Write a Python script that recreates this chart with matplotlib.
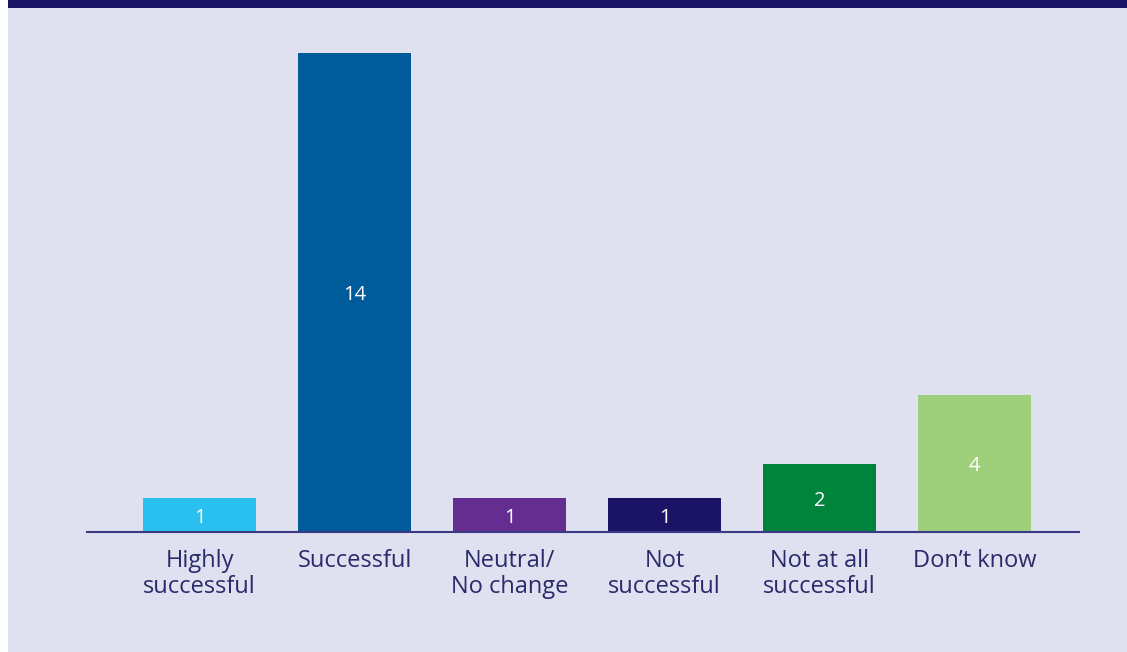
import matplotlib.pyplot as plt
from matplotlib.patches import Rectangle

categories = ["Highly\nsuccessful", "Successful", "Neutral/\nNo change",
              "Not\nsuccessful", "Not at all\nsuccessful", "Don\u2019t know"]
values = [1, 14, 1, 1, 2, 4]
colors = ["#29c0f0", "#005b9a", "#662d91", "#1b1464", "#00843d", "#9ed07b"]

BG = "#dfe1f0"
NAVY = "#1b1464"
TEXT = "#2b2a6b"

plt.rcParams['font.family'] = ['Open Sans', 'DejaVu Sans']

W, H = 1127, 652
fig = plt.figure(figsize=(W / 100, H / 100), dpi=100)
fig.patch.set_facecolor("white")
fig.patches.append(Rectangle((8 / W, 0), 1 - 8 / W, 1, transform=fig.transFigure,
                             facecolor=BG, edgecolor="none", zorder=-2))
fig.patches.append(Rectangle((8 / W, (H - 8) / H), 1 - 8 / W, 8 / H, transform=fig.transFigure,
                             facecolor=NAVY, edgecolor="none", zorder=-1))

ax = fig.add_axes([87 / W, 120 / H, 992 / W, 479 / H])
ax.set_facecolor("none")
xs = list(range(len(values)))
bars = ax.bar(xs, values, width=113 / 155, color=colors, zorder=2)
for b, v in zip(bars, values):
    ax.text(b.get_x() + b.get_width() / 2, v / 2 - 0.08, str(v), ha="center", va="center",
            color="white", fontsize=14.5, zorder=3)

ax.set_xlim(-0.726, 5.674)
ax.set_ylim(0, 14)
for s in ["top", "right", "left"]:
    ax.spines[s].set_visible(False)
ax.spines["bottom"].set_color("#3b3b85")
ax.spines["bottom"].set_linewidth(1.5)
ax.set_yticks([])
ax.set_xticks(xs)
ax.set_xticklabels(categories, fontsize=17, color=TEXT, linespacing=1.13)
ax.tick_params(axis="x", length=0, pad=12)
for lbl in ax.get_xticklabels():
    lbl.set_x(lbl.get_position()[0] - 0.015)

fig.savefig("out.png", dpi=100, facecolor=fig.get_facecolor())
